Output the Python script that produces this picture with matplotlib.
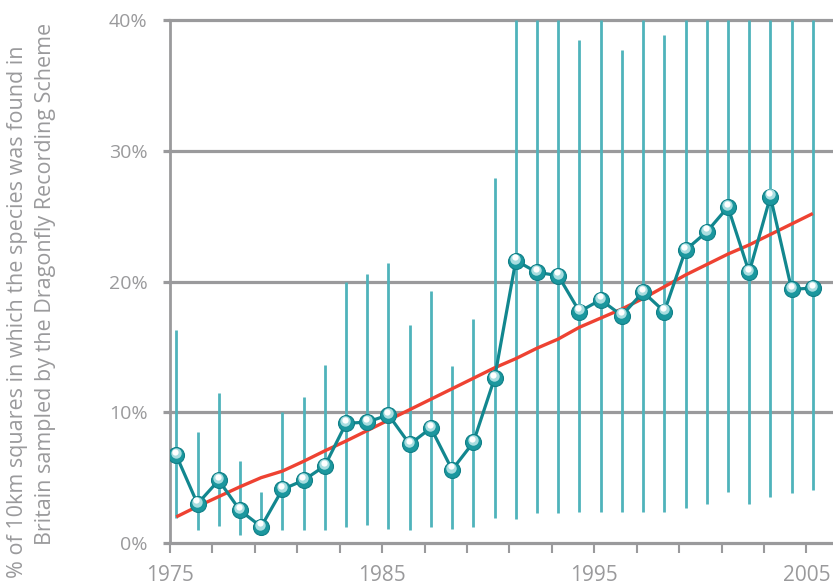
import numpy as np
import matplotlib.pyplot as plt
from matplotlib.transforms import offset_copy

years = np.arange(1975, 2006)

# % of 10km squares where the species was found
pct_found = [6.7, 3.0, 4.8, 2.5, 1.25, 4.1, 4.8, 5.9, 9.15, 9.25, 9.8,
             7.55, 8.8, 5.6, 7.7, 12.6, 21.6, 20.7, 20.45, 17.7, 18.6,
             17.4, 19.2, 17.7, 22.4, 23.8, 25.7, 20.7, 26.5, 19.4, 19.5]

# confidence interval ends (tops above 40% are clipped in the original)
ci_upper = [16.3, 8.5, 11.45, 6.3, 3.9, 10.0, 11.2, 13.6, 20.0, 20.6, 21.4,
            16.7, 19.3, 13.5, 17.1, 27.9, 40, 40, 40, 38.5, 40,
            37.7, 40, 38.85, 40, 40, 40, 40, 40, 40, 40]
ci_lower = [1.9, 1.0, 1.3, 0.6, 0.6, 1.0, 1.0, 1.0, 1.25, 1.35, 1.1,
            1.0, 1.2, 1.1, 1.25, 1.9, 1.85, 2.3, 2.3, 2.4, 2.35,
            2.4, 2.35, 2.35, 2.65, 3.0, 3.9, 3.0, 3.5, 3.85, 4.05]

# smoothed trend
trend = [2.0, 2.8, 3.55, 4.3, 5.0, 5.5, 6.25, 7.05, 7.8, 8.6, 9.4,
         10.2, 11.0, 11.8, 12.6, 13.4, 14.1, 14.9, 15.6, 16.5, 17.2,
         17.9, 18.7, 19.6, 20.5, 21.3, 22.1, 22.8, 23.6, 24.4, 25.2]

x_ticks = np.arange(1975, 2006, 2)
x_labels = ['1975', '1985', '1995', '2005']
y_ticks = [0, 10, 20, 30, 40]

GREY = '#9a9a9c'
TEAL = '#12878f'
BAR = '#4fb3bb'
RED = '#ee4232'

plt.rcParams['font.family'] = ['Open Sans', 'DejaVu Sans']

fig = plt.figure(figsize=(8.33, 5.88), dpi=100)
ax = fig.add_axes([0.204, 0.0765, 0.796, 0.8895])

x = years + 0.3

ax.vlines(x, ci_lower, ci_upper, color=BAR, linewidth=2.0, zorder=2)
ax.plot(x, trend, color=RED, linewidth=2.4, zorder=3, solid_capstyle='butt')
ax.plot(x, pct_found, color=TEAL, linewidth=2.3, zorder=4)

# shaded sphere markers
ax.plot(x, pct_found, 'o', ms=11.5, mfc='#1b979e', mec='#0f7f87', mew=0.8,
        linestyle='none', zorder=5)
hl1 = offset_copy(ax.transData, fig=fig, x=-0.5, y=1.5, units='points')
ax.plot(x, pct_found, 'o', ms=7.5, mfc='#a8dde0', mec='none',
        linestyle='none', zorder=6, transform=hl1)
hl2 = offset_copy(ax.transData, fig=fig, x=-0.8, y=2.4, units='points')
ax.plot(x, pct_found, 'o', ms=4.5, mfc='white', mec='none',
        linestyle='none', zorder=7, transform=hl2)

ax.set_xlim(1975, 2006.25)
ax.set_ylim(0, 40)

for yv in y_ticks:
    ax.axhline(yv, color=GREY, linewidth=2.3, zorder=1, clip_on=False)

ax.set_yticks(y_ticks)
ax.set_yticklabels([f'{v}%' for v in y_ticks])
ax.set_xticks(x_ticks)
ax.set_xticklabels([str(t) if str(t) in x_labels else '' for t in x_ticks])

ax.tick_params(axis='y', length=5, width=2.3, color=GREY, pad=11,
               labelsize=14, labelcolor=GREY)
ax.tick_params(axis='x', length=7, width=1.5, color=GREY, pad=9,
               labelsize=15, labelcolor=GREY)

for side in ['top', 'right', 'bottom']:
    ax.spines[side].set_visible(False)
ax.spines['left'].set_color(GREY)
ax.spines['left'].set_linewidth(2.0)

fig.text(0.021, 1 - 45 / 588, '% of 10km squares in which the species was found in',
         rotation=90, ha='center', va='top', fontsize=15.5, color=GREY)
fig.text(0.055, 1 - 23 / 588, 'Britain sampled by the Dragonfly Recording Scheme',
         rotation=90, ha='center', va='top', fontsize=15.5, color=GREY)

fig.savefig('out.png', dpi=100)
